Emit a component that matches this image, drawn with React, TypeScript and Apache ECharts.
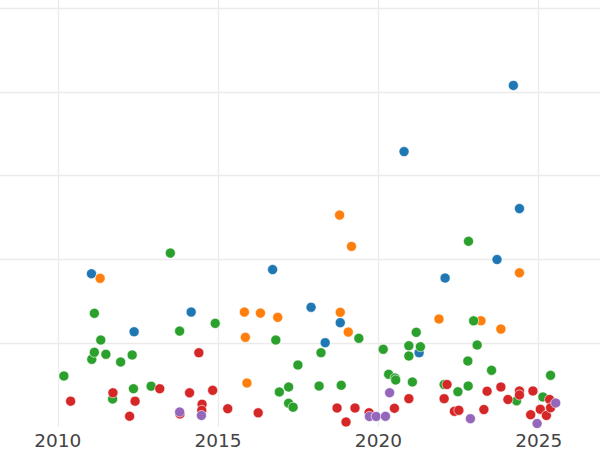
import React, { useEffect, useRef } from "react";
import * as echarts from "echarts";

// [year, value] pairs per group
const blueData: [number, number][] = [
  [2011.05, 18.28], [2012.38, 11.35], [2014.16, 13.7], [2016.7, 18.78], [2017.9, 14.27],
  [2018.34, 10.04], [2018.81, 12.43], [2020.8, 32.88], [2021.27, 8.84], [2022.08, 17.77],
  [2023.7, 19.98], [2024.21, 40.79], [2024.4, 26.07],
];
const orangeData: [number, number][] = [
  [2011.32, 17.73], [2015.82, 13.7], [2016.32, 13.58], [2016.86, 13.07], [2015.85, 10.68],
  [2015.9, 5.22], [2018.79, 25.29], [2019.16, 21.55], [2018.81, 13.67], [2019.06, 11.31],
  [2021.89, 12.87], [2023.2, 12.66], [2023.82, 11.67], [2024.4, 18.39],
];
const greenData: [number, number][] = [
  [2010.19, 6.06], [2011.06, 8.05], [2011.14, 8.89], [2011.14, 13.55], [2011.34, 10.36],
  [2011.5, 8.65], [2011.96, 7.73], [2012.32, 8.57], [2012.36, 4.54], [2011.71, 3.31],
  [2012.91, 4.84], [2013.51, 20.75], [2013.8, 11.43], [2014.91, 12.35], [2016.8, 10.36],
  [2017.49, 7.37], [2016.91, 4.15], [2017.2, 4.74], [2017.2, 2.8], [2017.34, 2.33],
  [2018.15, 4.86], [2018.21, 8.84], [2018.84, 4.95], [2019.39, 10.56], [2020.15, 9.25],
  [2020.32, 6.26], [2020.52, 5.82], [2020.54, 5.58], [2021.06, 5.34], [2020.95, 9.68],
  [2020.95, 8.45], [2021.18, 11.28], [2021.31, 9.56], [2022.05, 5.04], [2022.48, 4.18],
  [2022.8, 4.86], [2022.79, 7.85], [2022.81, 22.16], [2022.97, 12.65], [2023.08, 9.76],
  [2023.53, 6.74], [2024.31, 3.09], [2025.13, 3.55], [2025.37, 6.14],
];
const redData: [number, number][] = [
  [2010.4, 3.05], [2011.72, 4.05], [2012.24, 1.25], [2012.41, 3.05], [2013.18, 4.54],
  [2013.81, 1.52], [2014.11, 4.05], [2014.4, 8.84], [2014.5, 2.68], [2014.49, 1.96],
  [2014.83, 4.35], [2015.3, 2.15], [2016.25, 1.66], [2018.71, 2.23], [2018.99, 0.56],
  [2019.27, 2.23], [2019.71, 1.67], [2020.5, 2.2], [2020.95, 3.35], [2022.05, 3.35],
  [2022.14, 5.04], [2022.37, 1.84], [2022.51, 1.96], [2023.29, 2.05], [2023.39, 4.24],
  [2023.82, 4.74], [2024.04, 3.25], [2024.4, 4.27], [2024.4, 3.79], [2024.82, 4.27],
  [2024.75, 1.43], [2025.05, 2.08], [2025.24, 1.34], [2025.34, 3.25], [2025.37, 2.26],
];
const purpleData: [number, number][] = [
  [2013.8, 1.76], [2014.48, 1.34], [2019.72, 1.22], [2019.93, 1.22], [2020.22, 1.24],
  [2020.35, 4.06], [2022.87, 0.96], [2024.95, 0.38], [2025.53, 2.83],
];

const groups = [
  { name: "A", color: "#1f77b4", data: blueData },
  { name: "B", color: "#ff7f0e", data: orangeData },
  { name: "C", color: "#2ca02c", data: greenData },
  { name: "D", color: "#d62728", data: redData },
  { name: "E", color: "#9467bd", data: purpleData },
];

const X_MIN = 2008.197;
const X_MAX = 2026.912;
const Y_MIN = 0;
const Y_MAX = 51;

export default function App() {
  const ref = useRef<HTMLDivElement>(null);
  useEffect(() => {
    if (!ref.current) return;
    const chart = echarts.init(ref.current, null, { renderer: "svg" });
    const gridLine = { show: true, showMinLine: false, showMaxLine: false, lineStyle: { color: "#ebebeb", width: 1.3 } };
    chart.setOption({
      animation: false,
      backgroundColor: "#ffffff",
      grid: { left: 0, right: 0, top: 0, bottom: 23.3, containLabel: false },
      xAxis: {
        type: "value",
        min: X_MIN,
        max: X_MAX,
        splitNumber: 4,
        axisLine: { show: false },
        axisTick: { show: false },
        axisLabel: {
          show: true,
          showMinLabel: false,
          showMaxLabel: false,
          color: "#444444",
          fontFamily: "DejaVu Sans",
          fontSize: 18.5,
          margin: 4,
          formatter: (v: number) => String(Math.round(v)),
        },
        splitLine: gridLine,
      },
      yAxis: {
        type: "value",
        min: Y_MIN,
        max: Y_MAX,
        interval: 10,
        axisLine: { show: false },
        axisTick: { show: false },
        axisLabel: { show: false },
        splitLine: gridLine,
      },
      series: groups.map((g) => ({
        name: g.name,
        type: "scatter",
        data: g.data,
        symbol: "circle",
        symbolSize: 10,
        itemStyle: { color: g.color, borderColor: "#ffffff", borderWidth: 0.6, opacity: 1 },
      })),
    });
    return () => chart.dispose();
  }, []);
  return (
    <div
      ref={ref}
      style={{ position: "absolute", left: 0, top: 0, width: 600, height: 450 }}
    />
  );
}
